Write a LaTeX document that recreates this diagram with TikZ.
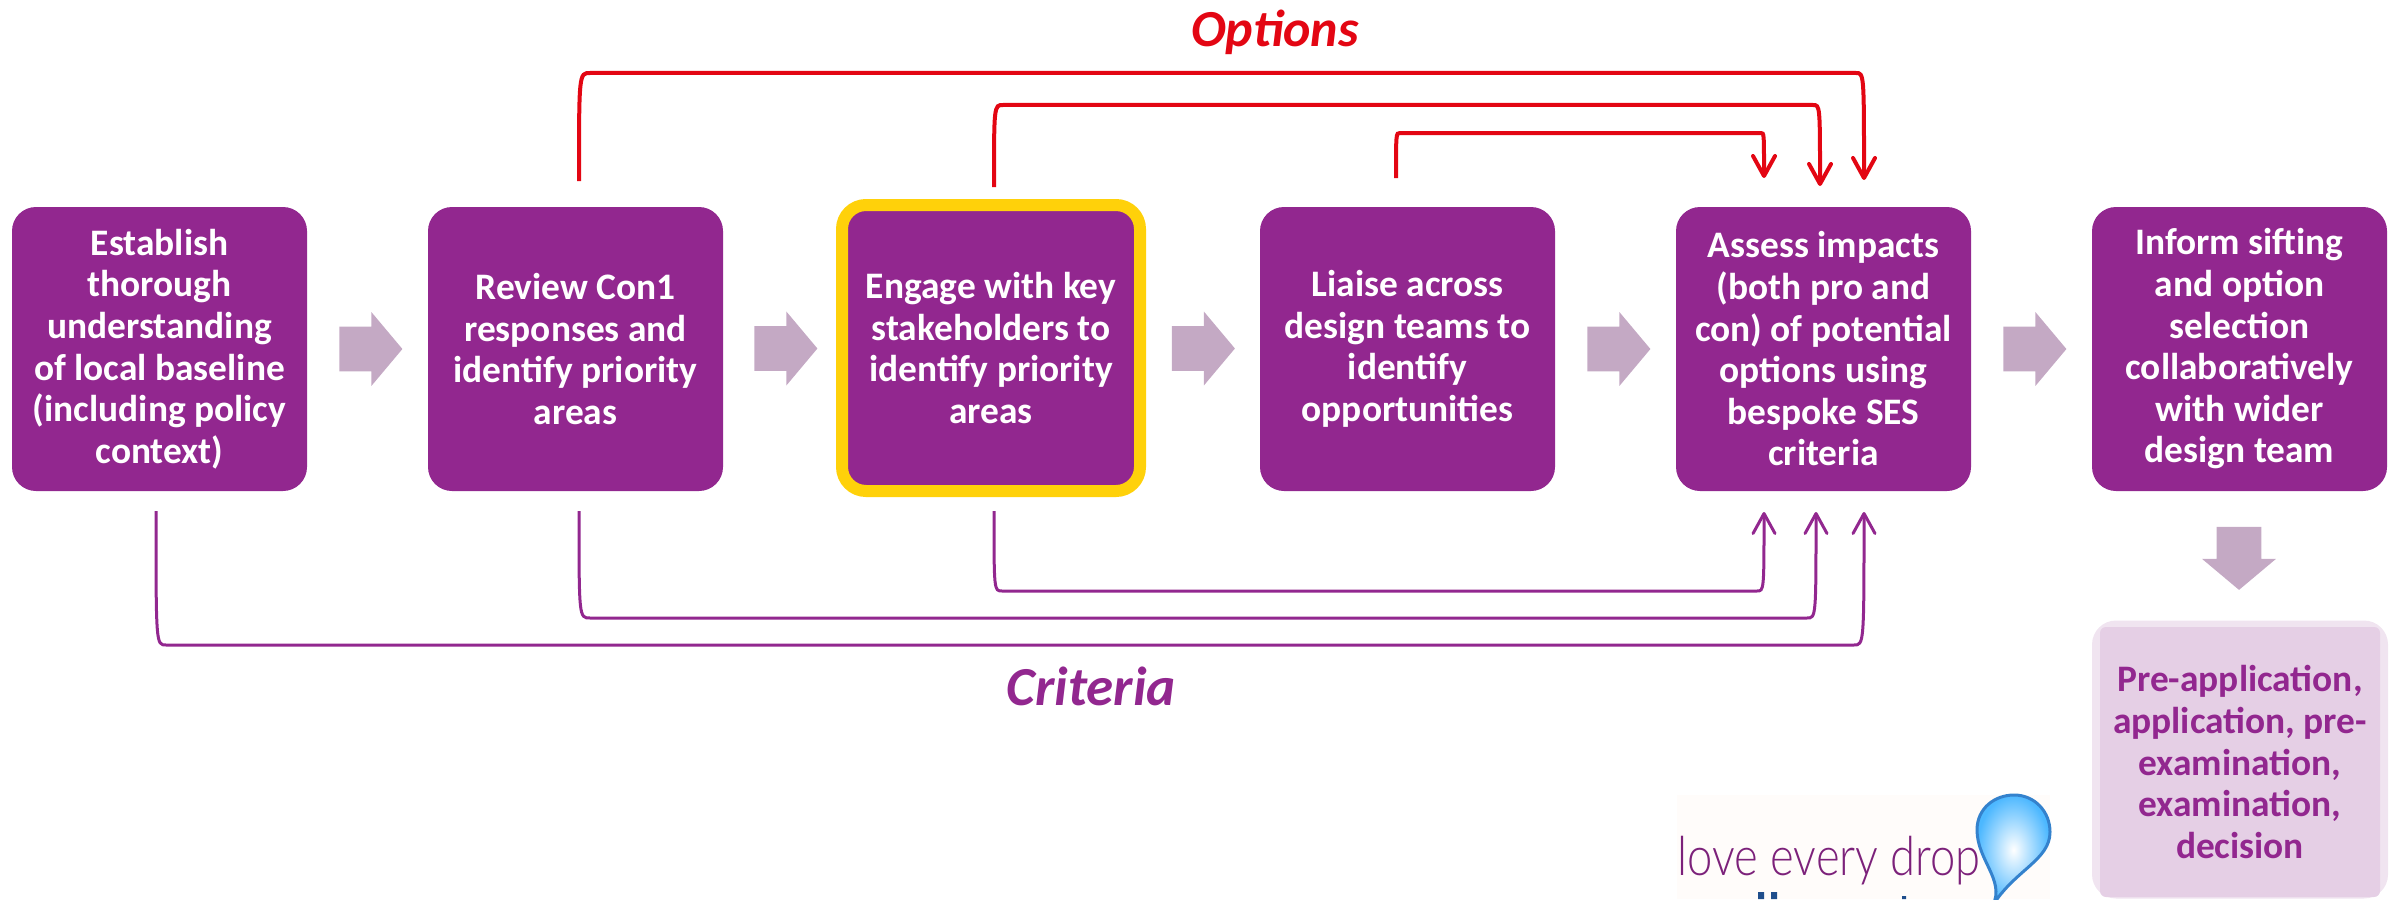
\documentclass[tikz,border=0pt]{standalone}
\usepackage{fontspec}
\usepackage{tikz}
\usetikzlibrary{arrows.meta,calc,shapes.arrows}
\setmainfont{Carlito}
\newfontfamily\logofont[FakeStretch=0.84]{Lato Light}

\definecolor{stagepurple}{HTML}{92278F}
\definecolor{optionred}{HTML}{E30613}
\definecolor{stepgrey}{HTML}{C4A9C4}
\definecolor{highlightyellow}{HTML}{FFD10A}
\definecolor{outcomefill}{HTML}{E5CFE5}
\definecolor{outcomeedge}{HTML}{F0E4F0}
\definecolor{logoblue}{HTML}{1F4E8C}

\tikzset{
  stagebox/.style={rounded corners=12pt, fill=stagepurple, text=white, align=center,
    minimum width=147.5pt, minimum height=142pt, inner sep=0pt, outer sep=0pt,
    font=\fontsize{18.7}{20.8}\selectfont\bfseries},
  focusbox/.style={stagebox, draw=highlightyellow, line width=6pt,
    minimum width=149pt, minimum height=143pt},
  blockarrow/.style={single arrow, fill=stepgrey, minimum height=31.5pt, minimum width=36.5pt,
    single arrow head extend=7.25pt, single arrow tip angle=100, single arrow head indent=0pt,
    inner xsep=0pt, inner ysep=11pt, outer sep=0pt},
  rowarrow/.style={blockarrow, xshift=-3pt},
  optline/.style={draw=optionred, line width=2pt},
  critline/.style={draw=stagepurple, line width=1.5pt},
  barb/.style={-{Straight Barb[length=10pt,width=11pt,round]}},
  looplabel/.style={font=\fontsize{26}{28}\selectfont\bfseries\itshape}
}

\begin{document}
\begin{tikzpicture}[x=0.5pt,y=-0.5pt]
    \useasboundingbox (0,0) rectangle (2402,899);

    % process row
    \node[stagebox] (establish) at (159.5,349) {Establish\\thorough\\understanding\\of local baseline\\(including policy\\context)};
    \node[stagebox] (review) at (575.5,349) {Review Con1\\responses and\\identify priority\\areas};
    \node[focusbox] (engage) at (991,348) {Engage with key\\stakeholders to\\identify priority\\areas};
    \node[stagebox] (liaise) at (1407.5,349) {Liaise across\\design teams to\\identify\\opportunities};
    \node[stagebox] (assess) at (1823.5,349) {Assess impacts\\(both pro and\\con) of potential\\options using\\bespoke SES\\criteria};
    \node[stagebox] (inform) at (2239.5,349) {Inform sifting\\and option\\selection\\collaboratively\\with wider\\design team};

    % block arrows
    \node[rowarrow] (stepA) at ($(establish.east)!0.5!(review.west)$) {};
    \node[rowarrow] (stepB) at ($(review.east)!0.5!(engage.west)$) {};
    \node[rowarrow] (stepC) at ($(engage.east)!0.5!(liaise.west)$) {};
    \node[rowarrow] (stepD) at ($(liaise.east)!0.5!(assess.west)$) {};
    \node[rowarrow] (stepE) at ($(assess.east)!0.5!(inform.west)$) {};
    \node[blockarrow, rotate=-90] (stepF) at (2239,549) {};

    % outcome box
    \node[rounded corners=12pt, fill=outcomeedge, minimum width=148pt, minimum height=139pt,
      inner sep=0pt] (outcomeback) at (2240,759.5) {};
    \node[rounded corners=3pt, fill=outcomefill, text=stagepurple, align=center,
      minimum width=140pt, minimum height=135pt, inner sep=0pt,
      font=\fontsize{18.7}{20.8}\selectfont\bfseries] (outcome) at (2240,762)
      {Pre-application,\\application, pre-\\examination,\\examination,\\decision};

    % options loops
    \coordinate (optAstart) at (579,181);
    \coordinate (optAleft) at (590,73);
    \coordinate (optAright) at (1856,73);
    \coordinate (optAtip) at (1864,180);
    \coordinate (optBstart) at (994,187);
    \coordinate (optBleft) at (1003,105);
    \coordinate (optBright) at (1813,105);
    \coordinate (optBtip) at (1820,186);
    \coordinate (optCstart) at (1396,178);
    \coordinate (optCleft) at (1400,133);
    \coordinate (optCright) at (1761,133);
    \coordinate (optCtip) at (1764,178);
    \foreach \loopname in {optA,optB,optC}
      \draw[optline,barb] (\loopname start) .. controls (\loopname start |- \loopname left) .. (\loopname left)
        -- (\loopname right) .. controls (\loopname tip |- \loopname right) .. (\loopname tip);

    % criteria loops
    \coordinate (critAstart) at (156,511);
    \coordinate (critAleft) at (166,645);
    \coordinate (critAright) at (1854,645);
    \coordinate (critAtip) at (1864,512);
    \coordinate (critBstart) at (579,511);
    \coordinate (critBleft) at (590,618);
    \coordinate (critBright) at (1807,618);
    \coordinate (critBtip) at (1816,512);
    \coordinate (critCstart) at (994,511);
    \coordinate (critCleft) at (1002,591);
    \coordinate (critCright) at (1757,591);
    \coordinate (critCtip) at (1764,512);
    \foreach \loopname in {critA,critB,critC}
      \draw[critline,barb] (\loopname start) .. controls (\loopname start |- \loopname left) .. (\loopname left)
        -- (\loopname right) .. controls (\loopname tip |- \loopname right) .. (\loopname tip);

    \node[looplabel, text=optionred] (optionslabel) at (1275,32) {Options};
    \node[looplabel, text=stagepurple, font=\fontsize{27.5}{28}\selectfont\bfseries\itshape] (criterialabel) at (1091,686) {Criteria};

    % logo
    \fill[fill=white!98!orange] (1677,795) rectangle (2050,899);
    \node[text=stagepurple!85!black, inner sep=0pt, anchor=base west,
      font=\fontsize{27}{30}\logofont] (logotext) at (1677,875) {love every drop};
    \shadedraw[draw=cyan!55!blue!85!white, line width=1.5pt, inner color=white, outer color=cyan!60!blue!70!white]
      (1993,905) .. controls (2005,880) and (1977,860) .. (1977,830)
      .. controls (1977,808) and (1995,795) .. (2014,795)
      .. controls (2035,795) and (2050,812) .. (2050,832)
      .. controls (2050,860) and (2015,870) .. (1993,905);
    \fill[fill=logoblue] (1758,892) rectangle (1764,899) (1771,892) rectangle (1777,899) (1902,896) rectangle (1906,899);
\end{tikzpicture}
\end{document}
